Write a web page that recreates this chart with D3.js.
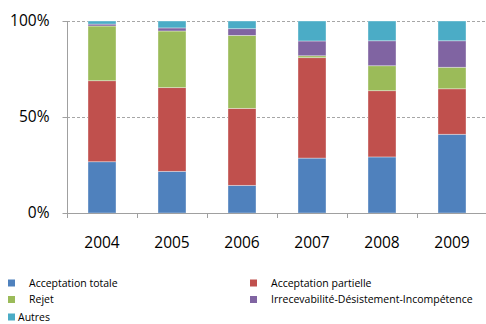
<!DOCTYPE html>
<html><head><meta charset="utf-8">
<script src="https://cdn.jsdelivr.net/npm/d3@7"></script>
<style>body{margin:0;background:#fff;}svg{display:block;font-family:"Open Sans",sans-serif;}</style>
</head><body>
<svg id="c" width="486" height="324"></svg>
<script>
const years = ["2004","2005","2006","2007","2008","2009"];
const seriesNames = ["Acceptation totale","Acceptation partielle","Rejet","Irrecevabilité-Désistement-Incompétence","Autres"];
const acceptationTotale = [26.7, 21.7, 14.4, 28.6, 29.2, 41.0];
const acceptationPartielle = [42.2, 43.6, 40.1, 52.3, 34.5, 23.7];
const rejet = [28.5, 29.5, 38.0, 1.0, 13.0, 11.2];
const irrecevabilite = [1.0, 1.6, 3.5, 7.7, 13.0, 13.8];
const autres = [1.6, 3.6, 4.0, 10.4, 10.3, 10.3];
const yTicks = [0, 50, 100];
const tickLabels = ["0%", "50%", "100%"];
const colors = ["#4F81BD","#C0504D","#9BBB59","#8064A2","#4BACC6"];

const seriesValues = [acceptationTotale, acceptationPartielle, rejet, irrecevabilite, autres];
const keys = ["s0","s1","s2","s3","s4"];
const table = years.map((y,i)=>{const o={year:y}; keys.forEach((k,j)=>o[k]=seriesValues[j][i]); return o;});
const stack = d3.stack().keys(keys).offset(d3.stackOffsetExpand)(table);

const svg = d3.select("#c");
const x = d3.scaleBand().domain(years).range([67,487]).paddingInner(0).paddingOuter(0);
const y = d3.scaleLinear().domain([0,1]).range([213,21]);
const barW = 28;
const FONT = "'Open Sans', sans-serif";

// gridlines
svg.append("g").selectAll("line").data(yTicks.filter(t=>t>0)).join("line")
  .attr("x1",67).attr("x2",486).attr("y1",d=>y(d/100)+0.5).attr("y2",d=>y(d/100)+0.5)
  .attr("stroke","#a6a6a6").attr("stroke-width",1).attr("stroke-dasharray","3,2");

// bars
svg.append("g").selectAll("g").data(stack).join("g").attr("fill",(d,i)=>colors[i])
  .selectAll("rect").data(d=>d).join("rect")
  .attr("x",d=>x(d.data.year)+x.bandwidth()/2-barW/2)
  .attr("width",barW)
  .attr("y",d=>y(d[1]))
  .attr("height",d=>y(d[0])-y(d[1]))
  .attr("stroke","rgba(255,255,255,0.45)").attr("stroke-width",0.8);

// y axis
const yAxis = d3.axisLeft(y).tickValues(yTicks.map(t=>t/100)).tickFormat((d,i)=>tickLabels[i]).tickSize(5).tickPadding(13);
const gy = svg.append("g").attr("transform","translate(67.5,0)").call(yAxis);
gy.select(".domain").attr("stroke","#a0a0a0").attr("d","M0,21V218");
gy.selectAll(".tick line").attr("stroke","#a0a0a0");
gy.selectAll(".tick text").attr("font-size",15.5).attr("fill","#000").attr("font-family",FONT);

// x axis
const xAxis = d3.axisBottom(x).tickSize(0).tickPadding(23);
const gx = svg.append("g").attr("transform","translate(0,213.5)").call(xAxis);
gx.select(".domain").attr("stroke","#a0a0a0").attr("d","M67,0H486");
gx.selectAll(".tick text").attr("font-size",15.5).attr("fill","#000").attr("font-family",FONT);
// category boundary ticks
svg.append("g").selectAll("line").data(years.slice(1)).join("line")
  .attr("x1",d=>Math.round(x(d))+0.5).attr("x2",d=>Math.round(x(d))+0.5)
  .attr("y1",213).attr("y2",218).attr("stroke","#a0a0a0");

// legend
const legendPos = [
  {sx:8, tx:29, y:283},
  {sx:250, tx:271, y:283},
  {sx:8, tx:29, y:299.5},
  {sx:250, tx:271, y:299.5},
  {sx:8, tx:18, y:317}
];
const lg = svg.append("g").selectAll("g").data(seriesNames).join("g");
lg.append("rect").attr("x",(d,i)=>legendPos[i].sx).attr("y",(d,i)=>legendPos[i].y-3.5)
  .attr("width",7).attr("height",7).attr("fill",(d,i)=>colors[i]);
lg.append("text").attr("x",(d,i)=>legendPos[i].tx).attr("y",(d,i)=>legendPos[i].y+3.8)
  .attr("font-size",10.5).attr("fill","#000").attr("font-family",FONT).text(d=>d);
</script>
</body></html>
